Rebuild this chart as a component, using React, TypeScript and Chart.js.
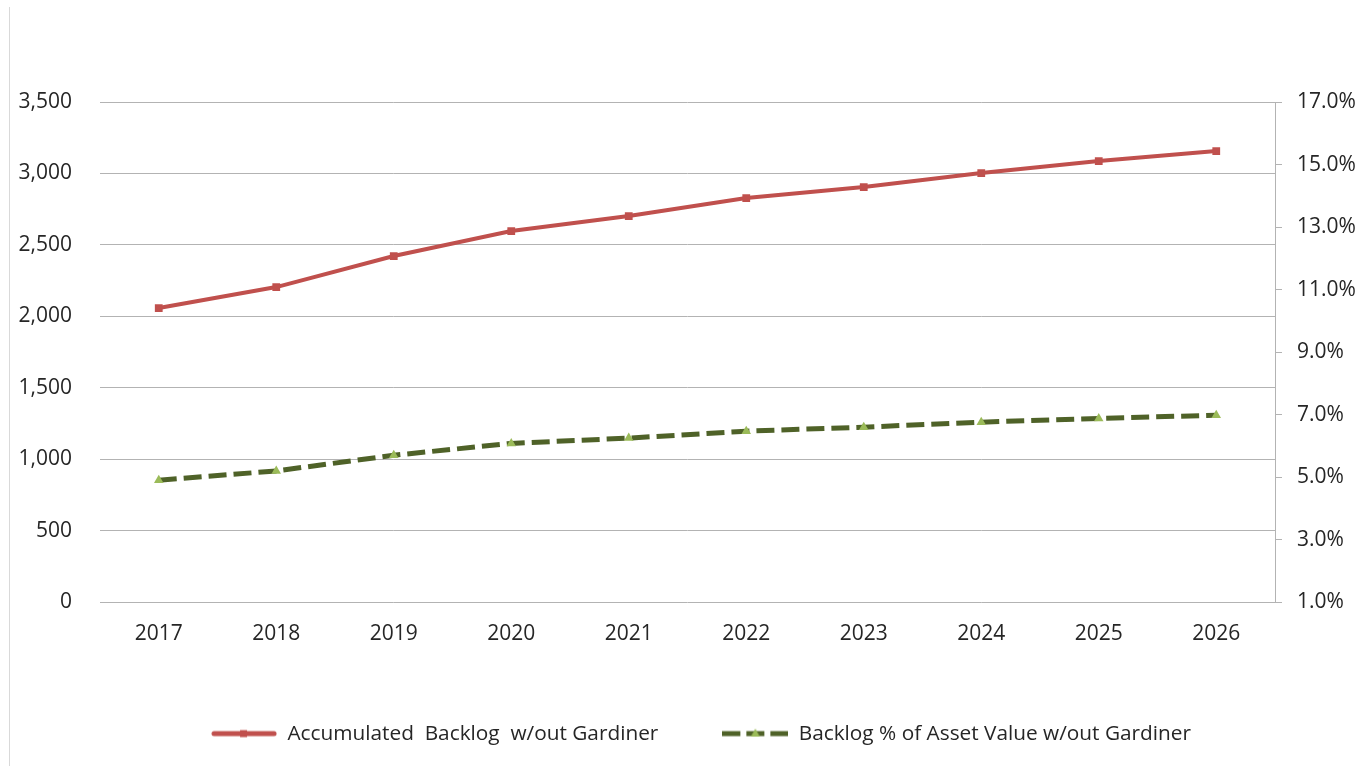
import React, { useEffect, useRef } from "react";
import { Chart, registerables } from "chart.js";

Chart.register(...registerables);

const categories = ["2017", "2018", "2019", "2020", "2021", "2022", "2023", "2024", "2025", "2026"];
const backlogValues = [2058, 2205, 2422, 2597, 2702, 2828, 2905, 3003, 3087, 3157];
const percentValues = [4.9, 5.2, 5.7, 6.08, 6.25, 6.47, 6.6, 6.76, 6.88, 6.98];
const leftTicks = [0, 500, 1000, 1500, 2000, 2500, 3000, 3500];
const rightTicks = [1, 3, 5, 7, 9, 11, 13, 15, 17];

const RED = "#c0504d";
const DARK_GREEN = "#4f6228";
const LIGHT_GREEN = "#9bbb59";
const GRID = "#b3b3b3";
const FONT = "'Open Sans', sans-serif";

function makeLegendIcon(kind: "red" | "green"): HTMLCanvasElement {
  const c = document.createElement("canvas");
  c.width = 66;
  c.height = 12;
  const ctx = c.getContext("2d")!;
  if (kind === "red") {
    ctx.strokeStyle = RED;
    ctx.lineWidth = 5;
    ctx.lineCap = "round";
    ctx.beginPath();
    ctx.moveTo(3, 6);
    ctx.lineTo(63, 6);
    ctx.stroke();
    ctx.fillStyle = RED;
    ctx.fillRect(29, 2.5, 7, 7);
  } else {
    ctx.fillStyle = DARK_GREEN;
    ctx.fillRect(0, 3.5, 18, 5);
    ctx.fillRect(24, 3.5, 18, 5);
    ctx.fillRect(48, 3.5, 18, 5);
    ctx.fillStyle = LIGHT_GREEN;
    ctx.beginPath();
    ctx.moveTo(33, 1);
    ctx.lineTo(37.5, 9);
    ctx.lineTo(28.5, 9);
    ctx.closePath();
    ctx.fill();
  }
  return c;
}

const legendShift = {
  id: "legendShift",
  afterLayout(chart: any) {
    if (chart.legend) {
      chart.legend.left += 16;
      chart.legend.right += 16;
    }
  },
};

export default function App() {
  const canvasRef = useRef<HTMLCanvasElement | null>(null);

  useEffect(() => {
    const canvas = canvasRef.current;
    if (!canvas) return;
    const icons = [makeLegendIcon("red"), makeLegendIcon("green")];
    const chart = new Chart(canvas, {
      type: "line",
      data: {
        labels: categories,
        datasets: [
          {
            label: "Accumulated  Backlog  w/out Gardiner",
            data: backlogValues,
            yAxisID: "y",
            borderColor: RED,
            backgroundColor: RED,
            borderWidth: 4,
            pointStyle: "rect",
            pointRadius: 5.5,
            pointBorderWidth: 0,
            pointBackgroundColor: RED,
            tension: 0,
          },
          {
            label: "Backlog % of Asset Value w/out Gardiner",
            data: percentValues,
            yAxisID: "y1",
            borderColor: DARK_GREEN,
            backgroundColor: DARK_GREEN,
            borderWidth: 5,
            borderDash: [18, 7],
            borderCapStyle: "butt",
            pointStyle: "triangle",
            pointRadius: 5.5,
            pointBorderWidth: 0,
            pointBackgroundColor: LIGHT_GREEN,
            tension: 0,
          },
        ],
      },
      plugins: [legendShift],
      options: {
        animation: false,
        responsive: false,
        devicePixelRatio: 1,
        layout: { padding: { top: 102, right: 0, bottom: 12, left: 0 } },
        plugins: {
          tooltip: { enabled: false },
          legend: {
            position: "bottom",
            labels: {
              usePointStyle: true,
              pointStyleWidth: 66,
              boxHeight: 12,
              padding: 64,
              color: "#262626",
              font: { family: FONT, size: 20.8 },
              generateLabels: (ch: any) =>
                ch.data.datasets.map((ds: any, i: number) => ({
                  text: ds.label,
                  pointStyle: icons[i],
                  fillStyle: "transparent",
                  strokeStyle: "transparent",
                  lineWidth: 0,
                  fontColor: "#262626",
                  hidden: false,
                  datasetIndex: i,
                })),
            },
          },
        },
        scales: {
          x: {
            type: "category",
            offset: true,
            grid: { display: false },
            border: { display: false },
            ticks: { color: "#262626", font: { family: FONT, size: 21 }, padding: 11, maxRotation: 0 },
            afterFit: (s: any) => {
              s.height = 57;
            },
          },
          y: {
            type: "linear",
            position: "left",
            min: 0,
            max: 3500,
            afterBuildTicks: (s: any) => {
              s.ticks = leftTicks.map((v) => ({ value: v }));
            },
            grid: { color: GRID, lineWidth: 1, drawTicks: false },
            border: { display: false },
            ticks: {
              color: "#262626",
              font: { family: FONT, size: 21 },
              padding: 28,
              callback: (v: any) => Number(v).toLocaleString("en-US"),
            },
            afterFit: (s: any) => {
              s.width = 100;
            },
          },
          y1: {
            type: "linear",
            position: "right",
            min: 1,
            max: 17,
            afterBuildTicks: (s: any) => {
              s.ticks = rightTicks.map((v) => ({ value: v }));
            },
            grid: { drawOnChartArea: false, color: GRID, tickLength: 7, lineWidth: 1 },
            border: { display: true, color: GRID, width: 1 },
            ticks: {
              color: "#262626",
              font: { family: FONT, size: 21 },
              padding: 15,
              callback: (v: any) => Number(v).toFixed(1) + "%",
            },
            afterFit: (s: any) => {
              s.width = 95;
            },
          },
        },
      },
    });
    return () => chart.destroy();
  }, []);

  return (
    <div style={{ position: "fixed", left: 0, top: 0, width: 1370, height: 766, background: "#fff" }}>
      <div
        style={{
          position: "absolute",
          left: 9,
          top: 7,
          width: 0,
          height: 759,
          borderLeft: "1px solid #d9d9d9",
        }}
      />
      <canvas ref={canvasRef} width={1370} height={766} style={{ position: "absolute", left: 0, top: 0 }} />
    </div>
  );
}
